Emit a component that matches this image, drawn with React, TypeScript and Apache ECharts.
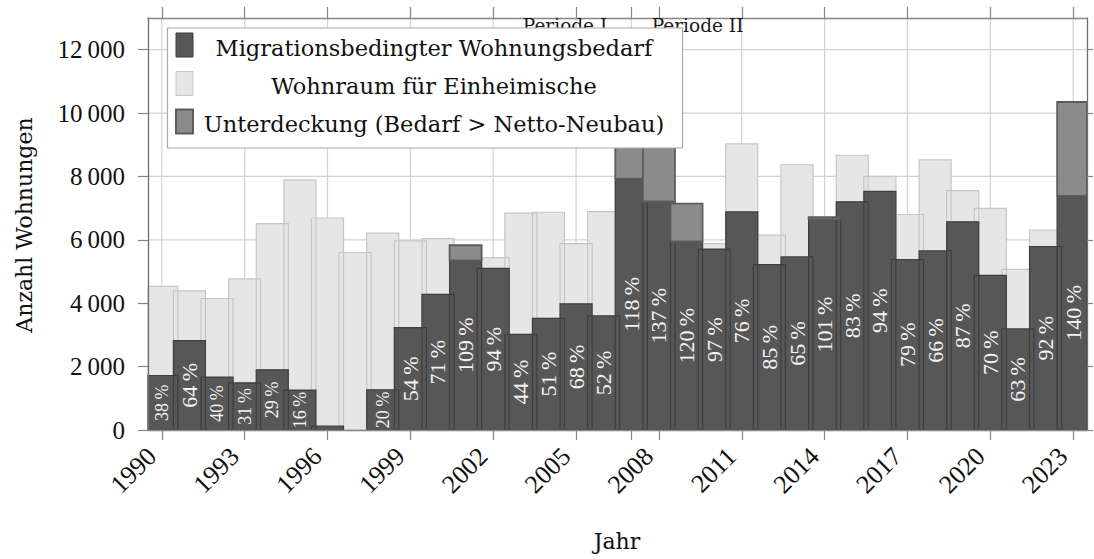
import React, { useEffect, useRef } from "react";
import * as echarts from "echarts";

// ---------------- data ----------------
const years = [
  1990, 1991, 1992, 1993, 1994, 1995, 1996, 1997, 1998, 1999, 2000, 2001,
  2002, 2003, 2004, 2005, 2006, 2007, 2008, 2009, 2010, 2011, 2012, 2013,
  2014, 2015, 2016, 2017, 2018, 2019, 2020, 2021, 2022, 2023,
];
// Netto-Neubau (Wohnungen insgesamt)
const netNewBuild = [
  4530, 4390, 4150, 4770, 6510, 7890, 6690, 5600, 6210, 5970, 6040, 5350,
  5440, 6840, 6870, 5880, 6890, 7930, 7210, 5950, 5880, 9030, 6150, 8370,
  6650, 8670, 8000, 6800, 8525, 7550, 6990, 5070, 6310, 7390,
];
// Migrationsbedingter Wohnungsbedarf
const migrationDemand = [
  1720, 2820, 1670, 1490, 1900, 1260, 120, 0, 1270, 3230, 4280, 5830,
  5100, 3020, 3525, 3980, 3600, 9360, 9880, 7140, 5710, 6880, 5220, 5460,
  6720, 7200, 7530, 5380, 5650, 6570, 4880, 3190, 5790, 10350,
];
const yTicks = [0, 2000, 4000, 6000, 8000, 10000, 12000];
const xLabelYears = [1990, 1993, 1996, 1999, 2002, 2005, 2008, 2011, 2014, 2017, 2020, 2023];
const periodSplitYear = 2007;
const periodLabels = ["Periode I", "Periode II"];
const periodLabelYears = [2004.6, 2009.4];
const legendLabels = [
  "Migrationsbedingter Wohnungsbedarf",
  "Wohnraum für Einheimische",
  "Unterdeckung (Bedarf > Netto-Neubau)",
];
const yTitle = "Anzahl Wohnungen";
const xTitle = "Jahr";

// ---------------- style ----------------
const X_MIN = 1989.5;
const X_MAX = 2023.5;
const Y_MAX = 13000;
const BAR_W = 1.16;
const NUM_FONT = "'Liberation Serif', serif";
const TEXT_FONT = "'DejaVu Serif', serif";
const DARK = "#575757";
const DARK_LINE = "#3e3e3e";
const LIGHT = "#e6e6e6";
const LIGHT_LINE = "#c6c6c6";
const SHORT = "#8b8b8b";
const SHORT_LINE = "#5c5c5c";
const AXIS_COLOR = "#858585";
const GRID_COLOR = "#d2d2d2";

const barData = years.map((y, i) => [y, netNewBuild[i], migrationDemand[i]]);

function fmtThousands(v: number): string {
  if (v < 1000) return String(v);
  const th = Math.floor(v / 1000);
  const rest = String(v % 1000).padStart(3, "0");
  return `${th}\u2009${rest}`;
}

type Kind = "lightFill" | "lightStroke" | "darkFill" | "darkStroke" | "short";

function barLayer(kind: Kind) {
  return (params: any, api: any) => {
    const x = api.value(0) as number;
    const build = api.value(1) as number;
    const demand = api.value(2) as number;
    const cs = params.coordSys;
    let y0 = 0;
    let y1 = 0;
    if (kind === "lightFill" || kind === "lightStroke") {
      y1 = build;
    } else if (kind === "darkFill" || kind === "darkStroke") {
      y1 = Math.min(build, demand);
    } else {
      if (demand <= build) return { type: "group", children: [] };
      y0 = build;
      y1 = demand;
    }
    if (y1 <= y0) return { type: "group", children: [] };
    const pA = api.coord([x - BAR_W / 2, y1]);
    const pB = api.coord([x + BAR_W / 2, y0]);
    const left = Math.max(pA[0], cs.x);
    const right = Math.min(pB[0], cs.x + cs.width);
    const shape = { x: left, y: pA[1], width: right - left, height: pB[1] - pA[1] };
    let style: any;
    if (kind === "lightFill") style = { fill: LIGHT, stroke: null };
    else if (kind === "lightStroke") style = { fill: null, stroke: LIGHT_LINE, lineWidth: 1.2 };
    else if (kind === "darkFill") style = { fill: DARK, stroke: null };
    else if (kind === "darkStroke") style = { fill: null, stroke: DARK_LINE, lineWidth: 1.2 };
    else style = { fill: SHORT, stroke: SHORT_LINE, lineWidth: 1.8 };
    return { type: "rect", shape, style };
  };
}

function labelLayer(params: any, api: any) {
  const x = api.value(0) as number;
  const build = api.value(1) as number;
  const demand = api.value(2) as number;
  const pct = Math.round((demand / build) * 100);
  if (pct < 5) return { type: "group", children: [] };
  const top = Math.min(build, demand);
  const pTop = api.coord([x, top]);
  const pBot = api.coord([x, 0]);
  const small = top < 2000;
  return {
    type: "text",
    x: pTop[0],
    y: (pTop[1] + pBot[1]) / 2,
    rotation: Math.PI / 2,
    style: {
      text: `${pct}\u2009%`,
      fill: "#f3f3f3",
      fontFamily: NUM_FONT,
      fontSize: small ? 18 : 22,
      align: "center",
      verticalAlign: "middle",
    },
  };
}

function xLabelLayer(params: any, api: any) {
  const x = api.value(0) as number;
  const p = api.coord([x, 0]);
  return {
    type: "text",
    x: p[0] - 10,
    y: p[1] + 22,
    rotation: Math.PI / 4,
    style: {
      text: String(x),
      fill: "#111",
      fontFamily: NUM_FONT,
      fontSize: 26,
      align: "right",
      verticalAlign: "middle",
    },
  };
}

function vGrid(params: any, api: any) {
  const x = api.value(0) as number;
  const cs = params.coordSys;
  const p = api.coord([x, 0]);
  return {
    type: "line",
    shape: { x1: p[0], y1: cs.y, x2: p[0], y2: cs.y + cs.height },
    style: { stroke: GRID_COLOR, lineWidth: 1.2 },
  };
}

function hGrid(params: any, api: any) {
  const y = api.value(1) as number;
  const cs = params.coordSys;
  const p = api.coord([X_MIN, y]);
  return {
    type: "line",
    shape: { x1: cs.x, y1: p[1], x2: cs.x + cs.width, y2: p[1] },
    style: { stroke: GRID_COLOR, lineWidth: 1.2 },
  };
}

function periodLayer(params: any, api: any) {
  const x = api.value(0) as number;
  const idx = params.dataIndex;
  const p = api.coord([x, Y_MAX]);
  return {
    type: "text",
    x: p[0],
    y: p[1] + 7,
    style: {
      text: periodLabels[idx],
      fill: "#1a1a1a",
      fontFamily: TEXT_FONT,
      fontSize: 18.5,
      align: "center",
      verticalAlign: "middle",
    },
  };
}

function buildOption(): any {
  const xTickValues = [...xLabelYears, periodSplitYear].sort((a, b) => a - b);
  const common = {
    type: "value",
    min: X_MIN,
    max: X_MAX,
    splitLine: { show: false },
    z: 10,
  };
  const legendRows = [0, 1, 2];
  const rowCenters = [47.5, 86, 124];
  const symColors = [
    { fill: DARK, stroke: DARK_LINE, lw: 1 },
    { fill: LIGHT, stroke: LIGHT_LINE, lw: 1 },
    { fill: SHORT, stroke: SHORT_LINE, lw: 2 },
  ];
  return {
    animation: false,
    grid: { left: 148, top: 18, right: 7, bottom: 129 },
    xAxis: [
      {
        ...common,
        position: "bottom",
        axisLine: { show: true, onZero: false, lineStyle: { color: AXIS_COLOR, width: 1.3 } },
        axisTick: { show: true, inside: false, length: 10, customValues: xTickValues, lineStyle: { color: AXIS_COLOR, width: 1.2 } },
        axisLabel: { show: false },
      },
      {
        ...common,
        position: "top",
        axisLine: { show: true, onZero: false, lineStyle: { color: AXIS_COLOR, width: 1.3 } },
        axisTick: { show: true, inside: false, length: 11, customValues: xTickValues, lineStyle: { color: AXIS_COLOR, width: 1.2 } },
        axisLabel: { show: false },
      },
    ],
    yAxis: [
      {
        type: "value",
        min: 0,
        max: Y_MAX,
        position: "left",
        z: 10,
        splitLine: { show: false },
        axisLine: { show: true, onZero: false, lineStyle: { color: "#6e6e6e", width: 1.3 } },
        axisTick: { show: true, inside: false, length: 10, customValues: yTicks, lineStyle: { color: AXIS_COLOR, width: 1.2 } },
        axisLabel: {
          show: true,
          customValues: yTicks,
          margin: 23,
          fontFamily: NUM_FONT,
          fontSize: 25,
          color: "#111",
          formatter: (v: number) => fmtThousands(v),
        },
      },
      {
        type: "value",
        min: 0,
        max: Y_MAX,
        position: "right",
        z: 10,
        splitLine: { show: false },
        axisLine: { show: true, onZero: false, lineStyle: { color: "#6e6e6e", width: 1.3 } },
        axisTick: { show: true, inside: false, length: 6, customValues: yTicks, lineStyle: { color: AXIS_COLOR, width: 1.2 } },
        axisLabel: { show: false },
      },
    ],
    series: [
      {
        type: "custom",
        name: "vgrid",
        z: 1,
        silent: true,
        renderItem: vGrid,
        encode: { x: 0, y: 1 },
        data: xTickValues.map((v) => [v, 0]),
      },
      {
        type: "custom",
        name: "hgrid",
        z: 1,
        silent: true,
        renderItem: hGrid,
        encode: { x: 0, y: 1 },
        data: yTicks.filter((v) => v > 0).map((v) => [X_MIN, v]),
      },
      { type: "custom", name: legendLabels[1], z: 2, silent: true, renderItem: barLayer("lightFill"), encode: { x: 0, y: 1 }, data: barData },
      { type: "custom", name: legendLabels[1] + " (Rand)", z: 3, silent: true, renderItem: barLayer("lightStroke"), encode: { x: 0, y: 1 }, data: barData },
      { type: "custom", name: legendLabels[0], z: 4, silent: true, renderItem: barLayer("darkFill"), encode: { x: 0, y: 1 }, data: barData },
      { type: "custom", name: legendLabels[0] + " (Rand)", z: 5, silent: true, renderItem: barLayer("darkStroke"), encode: { x: 0, y: 1 }, data: barData },
      { type: "custom", name: legendLabels[2], z: 6, silent: true, renderItem: barLayer("short"), encode: { x: 0, y: 1 }, data: barData },
      { type: "custom", name: "Anteile", z: 7, silent: true, renderItem: labelLayer, encode: { x: 0, y: 1 }, data: barData },
      {
        type: "custom",
        name: "Jahreszahlen",
        z: 12,
        silent: true,
        renderItem: xLabelLayer,
        encode: { x: 0, y: 1 },
        data: xLabelYears.map((v) => [v, 0]),
      },
      {
        type: "custom",
        name: "Perioden",
        z: 50,
        silent: true,
        renderItem: periodLayer,
        encode: { x: 0, y: 1 },
        data: periodLabelYears.map((v) => [v, Y_MAX]),
      },
    ],
    graphic: [
      {
        type: "group",
        z: 100,
        children: [
          {
            type: "rect",
            shape: { x: 167.5, y: 28, width: 515, height: 120 },
            style: { fill: "#ffffff", stroke: "#a8a8a8", lineWidth: 1.2 },
            z: 100,
          },
          ...legendRows.map((i) => ({
            type: "rect",
            shape: { x: 176, y: rowCenters[i] - 14.5, width: 17, height: 24 },
            style: { fill: symColors[i].fill, stroke: symColors[i].stroke, lineWidth: symColors[i].lw },
            z: 101,
          })),
          ...legendRows.map((i) => ({
            type: "text",
            x: 434,
            y: rowCenters[i],
            style: {
              text: legendLabels[i],
              fill: "#111",
              fontFamily: TEXT_FONT,
              fontSize: 22.5,
              align: "center",
              verticalAlign: "middle",
            },
            z: 101,
          })),
        ],
      },
      {
        type: "text",
        x: 24,
        y: 225,
        rotation: Math.PI / 2,
        style: {
          text: yTitle,
          fill: "#111",
          fontFamily: TEXT_FONT,
          fontSize: 22,
          align: "center",
          verticalAlign: "middle",
        },
      },
      {
        type: "text",
        x: 617,
        y: 541,
        style: {
          text: xTitle,
          fill: "#111",
          fontFamily: TEXT_FONT,
          fontSize: 22,
          align: "center",
          verticalAlign: "middle",
        },
      },
    ],
  };
}

export default function App() {
  const ref = useRef<HTMLDivElement>(null);
  useEffect(() => {
    document.body.style.margin = "0";
    const el = ref.current;
    if (!el) return;
    const chart = echarts.init(el, null, { renderer: "svg" });
    chart.setOption(buildOption());
    return () => {
      chart.dispose();
    };
  }, []);
  return <div ref={ref} style={{ width: 1094, height: 559 }} />;
}
